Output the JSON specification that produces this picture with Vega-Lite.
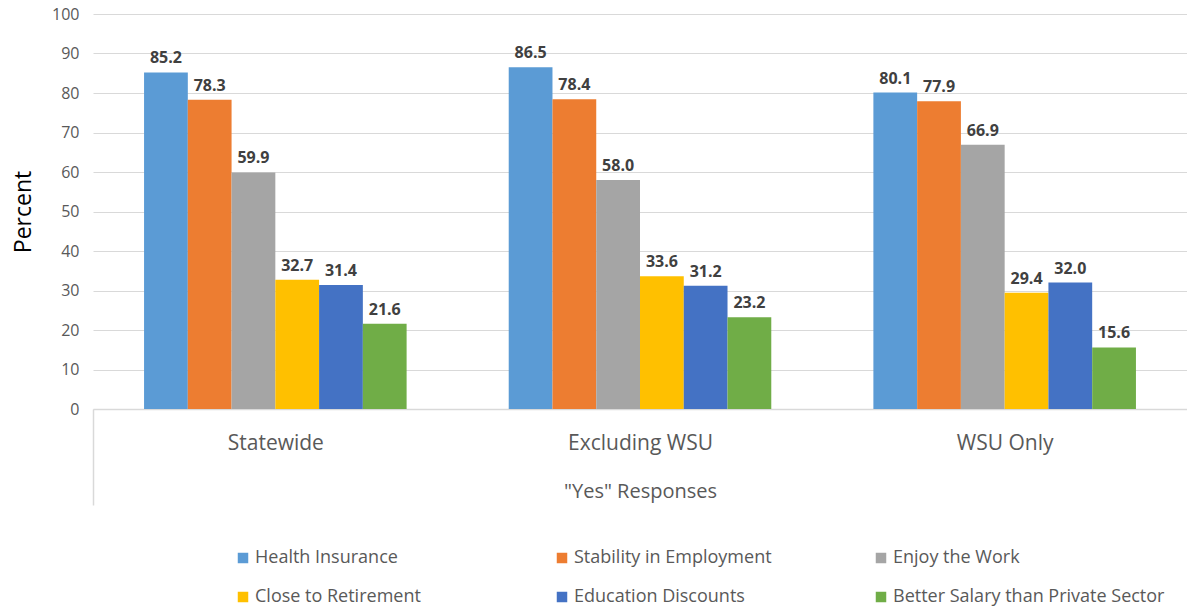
{
  "$schema": "https://vega.github.io/schema/vega-lite/v6.json",
  "width": 1094,
  "height": 395,
  "autosize": {"type": "none"},
  "padding": {"left": 93, "top": 14, "right": 0, "bottom": 199},
  "background": "white",
  "config": {
    "font": "Open Sans",
    "view": {"stroke": null},
    "legend": {"padding": 0}
  },
  "data": {
    "values": [
      {"group": "Statewide", "reason": "Health Insurance", "pct": 85.2},
      {"group": "Statewide", "reason": "Stability in Employment", "pct": 78.3},
      {"group": "Statewide", "reason": "Enjoy the Work", "pct": 59.9},
      {"group": "Statewide", "reason": "Close to Retirement", "pct": 32.7},
      {"group": "Statewide", "reason": "Education Discounts", "pct": 31.4},
      {"group": "Statewide", "reason": "Better Salary than Private Sector", "pct": 21.6},
      {"group": "Excluding WSU", "reason": "Health Insurance", "pct": 86.5},
      {"group": "Excluding WSU", "reason": "Stability in Employment", "pct": 78.4},
      {"group": "Excluding WSU", "reason": "Enjoy the Work", "pct": 58.0},
      {"group": "Excluding WSU", "reason": "Close to Retirement", "pct": 33.6},
      {"group": "Excluding WSU", "reason": "Education Discounts", "pct": 31.2},
      {"group": "Excluding WSU", "reason": "Better Salary than Private Sector", "pct": 23.2},
      {"group": "WSU Only", "reason": "Health Insurance", "pct": 80.1},
      {"group": "WSU Only", "reason": "Stability in Employment", "pct": 77.9},
      {"group": "WSU Only", "reason": "Enjoy the Work", "pct": 66.9},
      {"group": "WSU Only", "reason": "Close to Retirement", "pct": 29.4},
      {"group": "WSU Only", "reason": "Education Discounts", "pct": 32.0},
      {"group": "WSU Only", "reason": "Better Salary than Private Sector", "pct": 15.6}
    ]
  },
  "encoding": {
    "x": {
      "field": "group",
      "type": "nominal",
      "sort": ["Statewide", "Excluding WSU", "WSU Only"],
      "scale": {"paddingInner": 0.28, "paddingOuter": 0.14},
      "axis": {
        "title": "\"Yes\" Responses",
        "titleFontSize": 20,
        "titleFontWeight": "normal",
        "titleColor": "#595959",
        "titleBaseline": "middle",
        "titleY": 82,
        "labelAngle": 0,
        "labelFontSize": 21,
        "labelColor": "#595959",
        "labelBaseline": "middle",
        "labelPadding": -62,
        "domainColor": "#d9d9d9",
        "domainWidth": 1.5,
        "tickSize": 96,
        "tickColor": "#d9d9d9",
        "tickWidth": 1.5,
        "tickOffset": -182.35,
        "labelOffset": 182.35,
        "tickOpacity": {"condition": {"test": "datum.value === 'Statewide'", "value": 1}, "value": 0}
      }
    },
    "xOffset": {
      "field": "reason",
      "type": "nominal",
      "sort": ["Health Insurance", "Stability in Employment", "Enjoy the Work", "Close to Retirement", "Education Discounts", "Better Salary than Private Sector"]
    },
    "y": {
      "field": "pct",
      "type": "quantitative",
      "scale": {"domain": [0, 100]},
      "axis": {
        "title": "Percent",
        "titleFontSize": 23,
        "titleFontWeight": "normal",
        "titleColor": "#000000",
        "titlePadding": 16,
        "values": [0, 10, 20, 30, 40, 50, 60, 70, 80, 90, 100],
        "labelFontSize": 16,
        "labelColor": "#595959",
        "labelPadding": 14,
        "ticks": false,
        "domain": false,
        "gridColor": "#d9d9d9",
        "gridWidth": 1
      }
    }
  },
  "layer": [
    {
      "mark": {"type": "bar"},
      "encoding": {
        "color": {
          "field": "reason",
          "type": "nominal",
          "scale": {
            "domain": ["Health Insurance", "Stability in Employment", "Enjoy the Work", "Close to Retirement", "Education Discounts", "Better Salary than Private Sector"],
            "range": ["#5B9BD5", "#ED7D31", "#A5A5A5", "#FFC000", "#4472C4", "#70AD47"]
          },
          "legend": {
            "title": null,
            "orient": "none",
            "legendX": 141,
            "legendY": 535,
            "direction": "horizontal",
            "columns": 3,
            "gridAlign": "all",
            "columnPadding": 26,
            "rowPadding": 21,
            "symbolType": "square",
            "symbolSize": 110,
            "symbolStrokeWidth": 0,
            "labelFontSize": 18,
            "labelColor": "#595959",
            "labelOffset": 3,
            "labelLimit": 400
          }
        }
      }
    },
    {
      "mark": {"type": "text", "baseline": "bottom", "dy": -6, "fontSize": 16, "fontWeight": "bold", "color": "#404040"},
      "encoding": {
        "text": {"field": "pct", "type": "quantitative", "format": ".1f"}
      }
    }
  ]
}
